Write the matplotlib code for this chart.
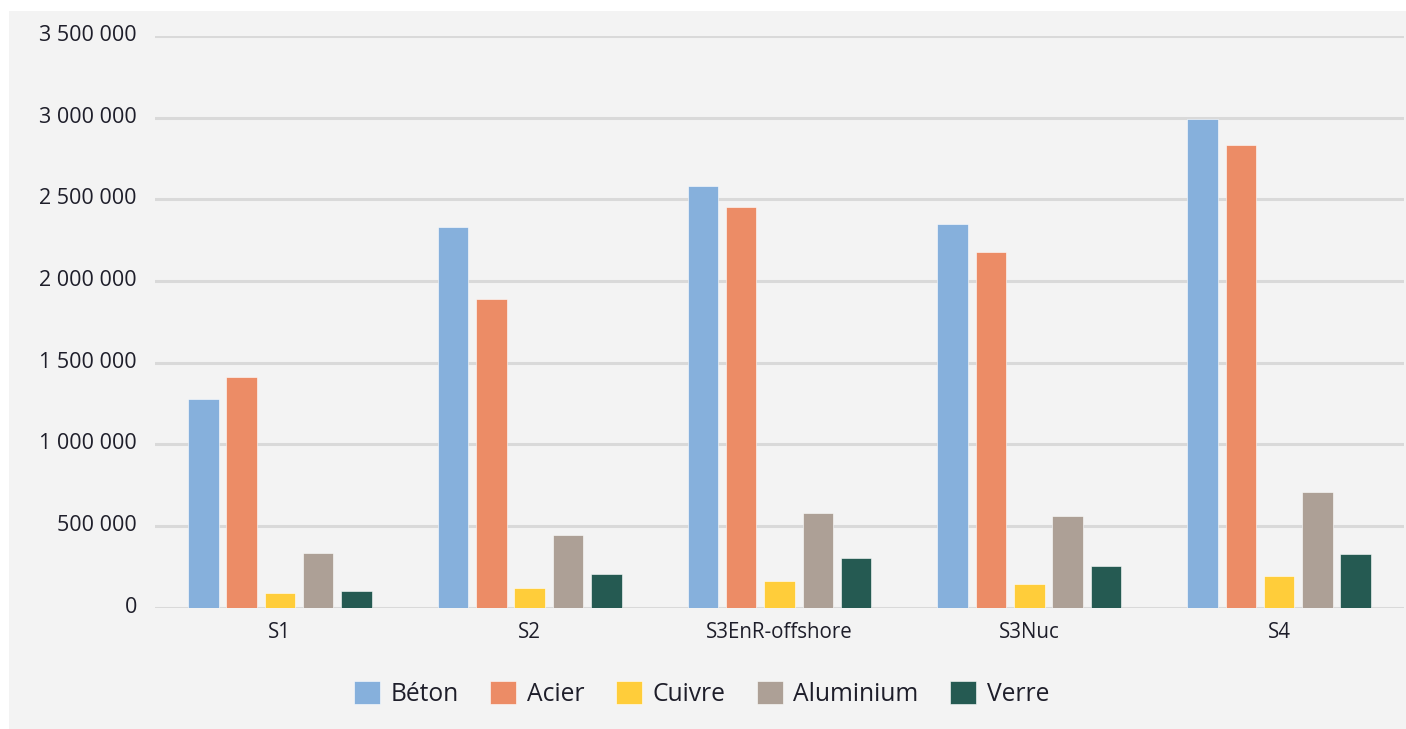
import numpy as np
import matplotlib
matplotlib.use("Agg")
import matplotlib.pyplot as plt
import matplotlib.transforms as mtransforms
from matplotlib.patches import Rectangle
from matplotlib.ticker import FuncFormatter

# material needs per scenario (tonnes)
scenarios = ["S1", "S2", "S3EnR-offshore", "S3Nuc", "S4"]
materials = ["Béton", "Acier", "Cuivre", "Aluminium", "Verre"]
beton = [1275000, 2330000, 2582000, 2347000, 2992000]
acier = [1415000, 1888000, 2455000, 2176000, 2835000]
cuivre = [90000, 122000, 164000, 146000, 194000]
aluminium = [333000, 445000, 579000, 561000, 708000]
verre = [104000, 207000, 305000, 256000, 329000]
colors = ["#86b0dc", "#ec8c66", "#ffcd3a", "#ada096", "#255a52"]

series = [beton, acier, cuivre, aluminium, verre]

plt.rcParams['font.family'] = ['Open Sans', 'DejaVu Sans']
text_col = "#1e1e2a"

fig = plt.figure(figsize=(14.06, 7.29), dpi=100)
fig.patch.set_facecolor("white")
# light grey panel behind everything
fig.patches.append(Rectangle((9 / 1406, 0), 1 - 9 / 1406, 1 - 11 / 729,
                             transform=fig.transFigure, facecolor="#f3f3f3",
                             edgecolor="none", zorder=-10))

ax = fig.add_axes([155 / 1406, (729 - 607.7) / 729, 1249 / 1406, (607.7 - 36) / 729])
ax.set_facecolor("none")

x = np.arange(len(scenarios))
width = 0.122
step = 0.1533
for i, (vals, col, name) in enumerate(zip(series, colors, materials)):
    ax.bar(x + (i - 2) * step, vals, width, color=col, label=name,
           edgecolor="white", linewidth=0.4, zorder=3)

ax.set_xlim(-0.5, 4.5)
ax.set_ylim(0, 3500000)
ax.set_yticks(np.arange(0, 3500001, 500000))
ax.yaxis.set_major_formatter(FuncFormatter(lambda v, p: f"{int(v):,}".replace(",", " ")))
ax.set_xticks(x)
ax.set_xticklabels(scenarios)

ax.grid(axis="y", color="#d9d9d9", linewidth=2.2, zorder=0)
ax.set_axisbelow(True)
for s in ax.spines.values():
    s.set_visible(False)
ax.tick_params(axis="both", length=0, labelcolor=text_col)
ax.tick_params(axis="y", pad=13, labelsize=15.5)
ax.tick_params(axis="x", pad=10, labelsize=14.8)
# nudge y labels slightly above their gridlines
offset = mtransforms.ScaledTranslation(0, 3 / 100, fig.dpi_scale_trans)
for lab in ax.get_yticklabels():
    lab.set_transform(lab.get_transform() + offset)

fig.legend(loc="center", bbox_to_anchor=(701.5 / 1406, 1 - 694 / 729), ncol=5,
           frameon=False, fontsize=17.7, labelcolor=text_col,
           handlelength=1.05, handleheight=1.05, handletextpad=0.42,
           columnspacing=1.3)

fig.savefig("out.png", dpi=100, facecolor=fig.get_facecolor())
